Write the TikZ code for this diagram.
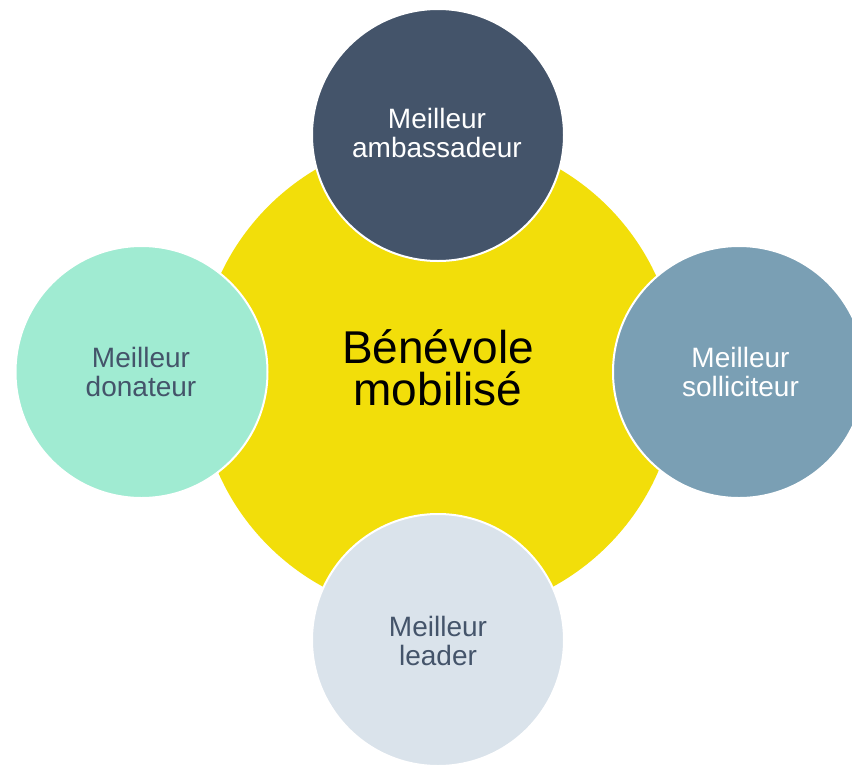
\documentclass[tikz,border=0pt]{standalone}
\usepackage{fontspec}
\setmainfont{Liberation Sans}
\definecolor{hubyellow}{HTML}{F2DE0A}
\definecolor{slate}{HTML}{44546A}
\definecolor{steel}{HTML}{7A9FB4}
\definecolor{mint}{HTML}{A0EBD2}
\definecolor{mist}{HTML}{DAE3EB}
\tikzset{
  hub/.style={circle, fill=hubyellow, minimum size=480pt, inner sep=0pt, outer sep=0pt},
  petal/.style={circle, draw=white, line width=2pt, minimum size=252pt, inner sep=0pt, outer sep=0pt},
  petaltext/.style={anchor=base, align=center, inner sep=0pt, font=\fontsize{28}{29}\selectfont},
  hubtext/.style={anchor=base, align=center, inner sep=0pt, font=\fontsize{46}{42}\selectfont, text=black}
}
\begin{document}
\begin{tikzpicture}[x=1pt, y=-1pt]
  \useasboundingbox (0,0) rectangle (852,766);
  \clip (0,0) rectangle (852,766);

  % central disc
  \node[hub] (hub) at (438,376) {};

  % surrounding discs
  \node[petal, fill=slate] (top) at (438,135) {};
  \node[petal, fill=steel] (right) at (739,372) {};
  \node[petal, fill=mint] (left) at (141.5,372) {};
  \node[petal, fill=mist] (bottom) at (438,640) {};

  % labels (anchored on the baseline of the last line)
  \node[hubtext] (hublabel) at (438,405) {Bénévole\\mobilisé};
  \node[petaltext, text=white] (toplabel) at (437,157) {Meilleur\\ambassadeur};
  \node[petaltext, text=white] (rightlabel) at (740.5,396.5) {Meilleur\\solliciteur};
  \node[petaltext, text=slate] (leftlabel) at (141,396.5) {Meilleur\\donateur};
  \node[petaltext, text=slate] (bottomlabel) at (438,665) {Meilleur\\leader};
\end{tikzpicture}
\end{document}
